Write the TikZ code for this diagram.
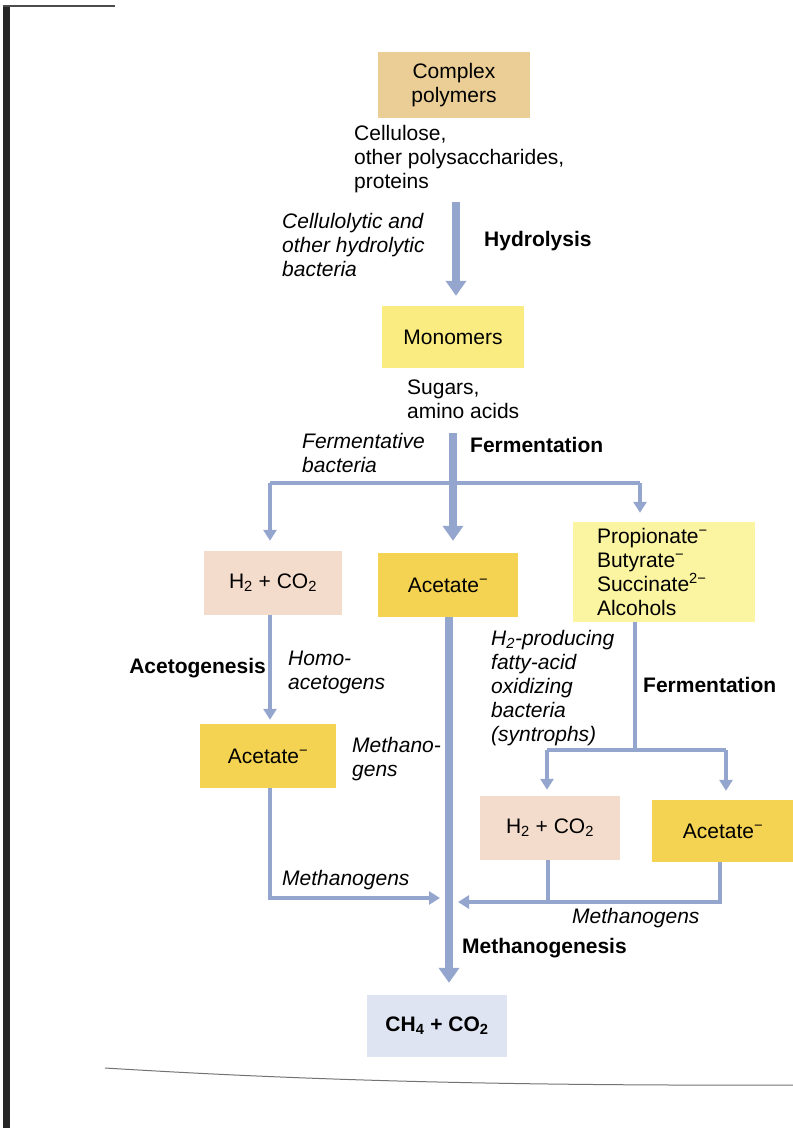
\documentclass[tikz,border=0pt]{standalone}
\usepackage{fontspec}
\setmainfont{Liberation Sans}
\usetikzlibrary{arrows.meta}
\definecolor{tanc}{RGB}{234,206,150}
\definecolor{monoc}{RGB}{250,236,128}
\definecolor{pinkc}{RGB}{243,220,203}
\definecolor{goldc}{RGB}{245,211,82}
\definecolor{palec}{RGB}{251,244,160}
\definecolor{bluec}{RGB}{222,228,242}
\definecolor{arrc}{RGB}{148,166,206}
\newcommand{\fsz}{\fontsize{21}{24}\selectfont}
\tikzset{
  box/.style={inner sep=0pt, align=center, font=\fsz},
  lab/.style={inner sep=0pt, anchor=west, align=left, font=\fsz},
  ilab/.style={lab, font=\fsz\itshape},
  blab/.style={lab, font=\fsz\bfseries},
  thickarr/.style={draw=arrc, line width=8pt, -{Triangle[width=20pt,length=15pt]}},
  thinarr/.style={draw=arrc, line width=3.5pt, -{Triangle[width=13pt,length=11pt]}},
  thinline/.style={draw=arrc, line width=3.5pt},
}
\begin{document}
\begin{tikzpicture}[x=1pt,y=-1pt]
\useasboundingbox (0,0) rectangle (793,1128);
% scan edges
\fill[black!85] (3,6) rectangle (10,1128);
\draw[black!70, line width=1.2pt] (3,6) -- (115,6);
\draw[black!55, line width=1pt] (105,1068) .. controls (300,1080) and (500,1086) .. (793,1085);

% boxes
\node[box, fill=tanc, minimum width=152pt, minimum height=66pt] (cp) at (454,85) {Complex\\polymers};
\node[box, fill=monoc, minimum width=142pt, minimum height=62pt] (mono) at (453,337) {Monomers};
\node[box, fill=pinkc, minimum width=138pt, minimum height=64pt] (h2l) at (273,583) {H\textsubscript{2} + CO\textsubscript{2}};
\node[box, fill=goldc, minimum width=140pt, minimum height=64pt] (acm) at (448,585) {Acetate\textsuperscript{−}};
\node[box, fill=palec, minimum width=182pt, minimum height=100pt, align=left, text width=134pt] (prop) at (664,572)
  {Propionate\textsuperscript{−}\\Butyrate\textsuperscript{−}\\Succinate\textsuperscript{2−}\\Alcohols};
\node[box, fill=goldc, minimum width=136pt, minimum height=64pt] (acl) at (268,756) {Acetate\textsuperscript{−}};
\node[box, fill=pinkc, minimum width=140pt, minimum height=64pt] (h2r) at (550,828) {H\textsubscript{2} + CO\textsubscript{2}};
\node[box, fill=goldc, minimum width=142pt, minimum height=62pt] (acr) at (723,831) {Acetate\textsuperscript{−}};
\node[box, fill=bluec, minimum width=140pt, minimum height=62pt, font=\fsz\bfseries] (ch4) at (437,1026) {CH\textsubscript{4} + CO\textsubscript{2}};

% labels
\node[lab] (cell) at (354,159) {Cellulose,\\other polysaccharides,\\proteins};
\node[ilab] (hydb) at (282,245) {Cellulolytic and\\other hydrolytic\\bacteria};
\node[blab] (hyd) at (484,241) {Hydrolysis};
\node[lab] (sug) at (407,399) {Sugars,\\amino acids};
\node[ilab] (fermb) at (302,453) {Fermentative\\bacteria};
\node[blab] (ferm) at (470,445) {Fermentation};
\node[blab, anchor=east] (acet) at (266,668) {Acetogenesis};
\node[ilab] (homo) at (288,672) {Homo-\\acetogens};
\node[ilab] (meth1) at (352,759) {Methano-\\gens};
\node[ilab] (synt) at (491,688) {H\textsubscript{2}-producing\\fatty-acid\\oxidizing\\bacteria\\(syntrophs)};
\node[blab] (ferm2) at (643,685) {Fermentation};
\node[ilab] (meth2) at (282,880) {Methanogens};
\node[ilab] (meth3) at (572,918) {Methanogens};
\node[blab] (mgen) at (462,948) {Methanogenesis};

% connectors
\coordinate (hs) at (456,202);
\draw[thickarr, shorten >=10pt] (hs) -- (hs |- mono.north);
\coordinate (fs) at (453,433);
\coordinate (fj) at (453,483);
\coordinate (fl) at (270,483);
\coordinate (fr) at (640,483);
\draw[thickarr, shorten >=12pt] (fs) -- (fs |- acm.north);
\draw[thinline] (fj) -- (fl);
\draw[thinline] (fj) -- (fr);
\draw[thinarr, shorten >=10pt] (fl) -- (fl |- h2l.north);
\draw[thinarr, shorten >=9pt] (fr) -- (fr |- prop.north);
% left column
\coordinate (lx) at (270,600);
\draw[thinarr, shorten >=4pt] (lx |- h2l.south) -- (lx |- acl.north);
\coordinate (lb) at (270,898);
\coordinate (le) at (440,898);
\draw[thinarr, line join=miter] (lx |- acl.south) -- (lb) -- (le);
% main column
\coordinate (mx) at (449,600);
\draw[thickarr, shorten >=12pt] (mx |- acm.south) -- (mx |- ch4.north);
% right column
\coordinate (rx) at (635,600);
\coordinate (rj) at (635,750);
\coordinate (rl) at (547,750);
\coordinate (rr) at (726,750);
\draw[thinline] (rx |- prop.south) -- (rj);
\draw[thinline] (rl) -- (rr);
\draw[thinarr, shorten >=6pt] (rl) -- (rl |- h2r.north);
\draw[thinarr, shorten >=9pt] (rr) -- (rr |- acr.north);
\coordinate (bh) at (548,902);
\coordinate (ba) at (720,902);
\coordinate (be) at (458,902);
\draw[thinline] (bh |- h2r.south) -- (bh);
\draw[thinarr, line join=miter] (ba |- acr.south) -- (ba) -- (be);
\end{tikzpicture}
\end{document}
